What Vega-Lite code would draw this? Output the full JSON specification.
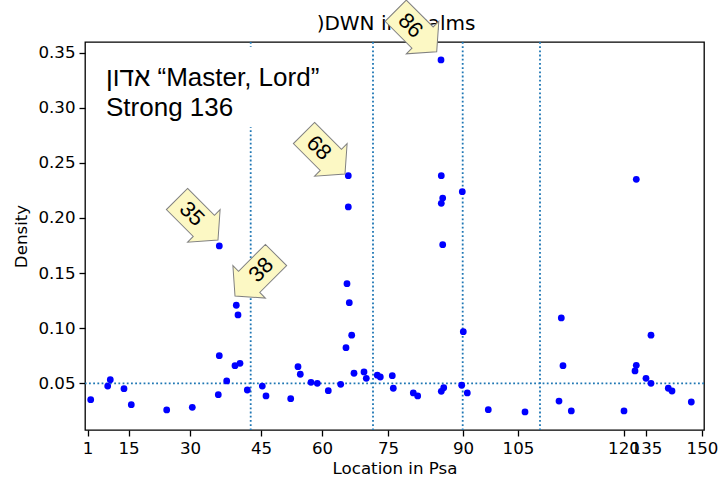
{
  "$schema": "https://vega.github.io/schema/vega-lite/v6.json",
  "width": 619,
  "height": 388,
  "autosize": {"type": "none"},
  "padding": {"left": 85, "top": 42, "right": 19, "bottom": 53},
  "background": "white",
  "config": {
    "view": {"stroke": "#000", "strokeWidth": 1.3},
    "axis": {"grid": false, "domain": false, "tickColor": "#000", "tickWidth": 1.3, "tickSize": 6, "labelPadding": 4, "labelFont": "DejaVu Sans", "labelFontSize": 16.67, "labelColor": "#000", "titleFont": "DejaVu Sans", "titleFontSize": 16.67, "titleFontWeight": "normal", "titleColor": "#000", "titlePadding": 4, "labelOverlap": false, "labelFlush": false}
  },
  "datasets": {
    "points": [
      {"location": 5.7, "density": 0.0351}, {"location": 22.7, "density": 0.0475}, {"location": 25.3, "density": 0.0533},
      {"location": 39.0, "density": 0.0451}, {"location": 46.3, "density": 0.0306}, {"location": 81.7, "density": 0.0258},
      {"location": 107.3, "density": 0.0282}, {"location": 133.3, "density": 0.0397}, {"location": 134.3, "density": 0.0750},
      {"location": 134.3, "density": 0.1746}, {"location": 141.7, "density": 0.0521}, {"location": 150.0, "density": 0.0660},
      {"location": 155.0, "density": 0.0681}, {"location": 151.3, "density": 0.1208}, {"location": 153.0, "density": 0.1120},
      {"location": 162.3, "density": 0.0439}, {"location": 177.3, "density": 0.0475}, {"location": 181.0, "density": 0.0385},
      {"location": 205.7, "density": 0.0360}, {"location": 213.0, "density": 0.0651}, {"location": 215.3, "density": 0.0582},
      {"location": 226.0, "density": 0.0509}, {"location": 232.3, "density": 0.0500}, {"location": 243.3, "density": 0.0433},
      {"location": 255.7, "density": 0.0491}, {"location": 261.0, "density": 0.0823}, {"location": 266.7, "density": 0.0936},
      {"location": 262.0, "density": 0.1404}, {"location": 264.3, "density": 0.1231}, {"location": 263.3, "density": 0.2100},
      {"location": 263.3, "density": 0.2384}, {"location": 269.0, "density": 0.0591}, {"location": 279.0, "density": 0.0603},
      {"location": 281.3, "density": 0.0545}, {"location": 292.3, "density": 0.0573}, {"location": 295.3, "density": 0.0557},
      {"location": 307.3, "density": 0.0569}, {"location": 308.3, "density": 0.0455}, {"location": 328.3, "density": 0.0412},
      {"location": 332.7, "density": 0.0385}, {"location": 356.3, "density": 0.0427}, {"location": 358.7, "density": 0.0460},
      {"location": 357.7, "density": 0.1758}, {"location": 356.3, "density": 0.2133}, {"location": 357.7, "density": 0.2181},
      {"location": 356.3, "density": 0.2384}, {"location": 356.0, "density": 0.3434}, {"location": 376.7, "density": 0.0482},
      {"location": 378.3, "density": 0.0968}, {"location": 377.3, "density": 0.2239}, {"location": 382.3, "density": 0.0412},
      {"location": 403.3, "density": 0.0260}, {"location": 440.0, "density": 0.0240}, {"location": 474.0, "density": 0.0339},
      {"location": 478.0, "density": 0.0660}, {"location": 476.3, "density": 0.1093}, {"location": 486.3, "density": 0.0249},
      {"location": 539.0, "density": 0.0249}, {"location": 550.0, "density": 0.0612}, {"location": 551.3, "density": 0.0663},
      {"location": 551.3, "density": 0.2351}, {"location": 561.0, "density": 0.0545}, {"location": 566.0, "density": 0.0500},
      {"location": 566.0, "density": 0.0936}, {"location": 583.3, "density": 0.0455}, {"location": 587.0, "density": 0.0430},
      {"location": 606.3, "density": 0.0330}
    ],
    "books": [{"location": 165.7}, {"location": 288.0}, {"location": 377.7}, {"location": 455.0}],
    "notes": [
      {"label": "35", "location": 133.0, "density": 0.1800},
      {"label": "68", "location": 260.0, "density": 0.2399},
      {"label": "86", "location": 351.7, "density": 0.3509},
      {"label": "38", "location": 150.0, "density": 0.1292}
    ]
  },
  "layer": [
    {
      "data": {"name": "books"},
      "mark": {"type": "rule", "color": "#1f77b4", "strokeWidth": 1.8, "strokeDash": [1.8, 2.4]},
      "encoding": {"x": {"field": "location", "type": "quantitative", "title": "Location in Psa"}}
    },
    {
      "data": {"values": [{}]},
      "mark": {"type": "rule", "color": "#1f77b4", "strokeWidth": 1.8, "strokeDash": [1.8, 2.4]},
      "encoding": {"y": {"datum": 0.05, "type": "quantitative"}}
    },
    {
      "data": {"values": [{}]},
      "mark": {"type": "rect", "fill": "white"},
      "encoding": {
        "x": {"datum": 12, "type": "quantitative"}, "x2": {"datum": 250},
        "y": {"datum": 0.2826, "type": "quantitative"}, "y2": {"datum": 0.3552}
      }
    },
    {
      "data": {"values": [{}]},
      "mark": {"type": "text", "text": ["אדון “Master, Lord”", "Strong 136"], "align": "left", "baseline": "alphabetic", "font": "Liberation Sans", "fontSize": 26, "lineHeight": 30, "color": "#000"},
      "encoding": {"x": {"datum": 21, "type": "quantitative"}, "y": {"datum": 0.3195, "type": "quantitative"}}
    },
    {
      "data": {"values": [{}]},
      "mark": {"type": "text", "text": ")DWN in Psalms", "align": "center", "baseline": "alphabetic", "font": "DejaVu Sans", "fontSize": 20, "color": "#000"},
      "encoding": {"x": {"datum": 311, "type": "quantitative"}, "y": {"datum": 0.3706, "type": "quantitative"}}
    },
    {
      "data": {"name": "points"},
      "mark": {"type": "circle", "color": "#0000ff", "size": 46, "opacity": 1},
      "encoding": {
        "x": {"field": "location", "type": "quantitative", "title": "Location in Psa",
          "scale": {"domain": [0, 619], "nice": false, "zero": false},
          "axis": {"values": [2.5, 43.5, 105, 176, 237, 303, 378, 433, 538.5, 561, 617],
            "labelExpr": "datum.value < 20 ? '1' : datum.value < 70 ? '15' : datum.value < 140 ? '30' : datum.value < 200 ? '45' : datum.value < 270 ? '60' : datum.value < 340 ? '75' : datum.value < 400 ? '90' : datum.value < 480 ? '105' : datum.value < 550 ? '120' : datum.value < 590 ? '135' : '150'"}},
        "y": {"field": "density", "type": "quantitative", "title": "Density",
          "scale": {"domain": [0.0076, 0.3597], "nice": false, "zero": false},
          "axis": {"values": [0.05, 0.1, 0.15, 0.2, 0.25, 0.3, 0.35], "format": ".2f", "titlePadding": 7}}
      }
    },
    {
      "data": {"name": "notes"},
      "transform": [{"filter": "datum.label != '38'"}],
      "mark": {"type": "point", "shape": "M-2,-0.517L-0.69,-0.517L-0.69,-0.793L0,0L-0.69,0.793L-0.69,0.517L-2,0.517Z", "size": 3364, "angle": 45, "filled": true, "fill": "#fcf8c4", "stroke": "#808080", "strokeWidth": 1, "opacity": 1},
      "encoding": {"x": {"field": "location", "type": "quantitative", "title": "Location in Psa"}, "y": {"field": "density", "type": "quantitative", "title": "Density"}}
    },
    {
      "data": {"name": "notes"},
      "transform": [{"filter": "datum.label == '38'"}],
      "mark": {"type": "point", "shape": "M-2,-0.517L-0.69,-0.517L-0.69,-0.793L0,0L-0.69,0.793L-0.69,0.517L-2,0.517Z", "size": 3364, "angle": 135, "filled": true, "fill": "#fcf8c4", "stroke": "#808080", "strokeWidth": 1, "opacity": 1},
      "encoding": {"x": {"field": "location", "type": "quantitative", "title": "Location in Psa"}, "y": {"field": "density", "type": "quantitative", "title": "Density"}}
    },
    {
      "data": {"name": "notes"},
      "transform": [{"filter": "datum.label != '38'"}],
      "mark": {"type": "text", "angle": 45, "dx": -37, "align": "center", "baseline": "middle", "font": "Liberation Sans", "fontSize": 22, "color": "#000"},
      "encoding": {"x": {"field": "location", "type": "quantitative", "title": "Location in Psa"}, "y": {"field": "density", "type": "quantitative", "title": "Density"}, "text": {"field": "label"}}
    },
    {
      "data": {"name": "notes"},
      "transform": [{"filter": "datum.label == '38'"}],
      "mark": {"type": "text", "angle": -45, "dx": 37, "align": "center", "baseline": "middle", "font": "Liberation Sans", "fontSize": 22, "color": "#000"},
      "encoding": {"x": {"field": "location", "type": "quantitative", "title": "Location in Psa"}, "y": {"field": "density", "type": "quantitative", "title": "Density"}, "text": {"field": "label"}}
    }
  ]
}
